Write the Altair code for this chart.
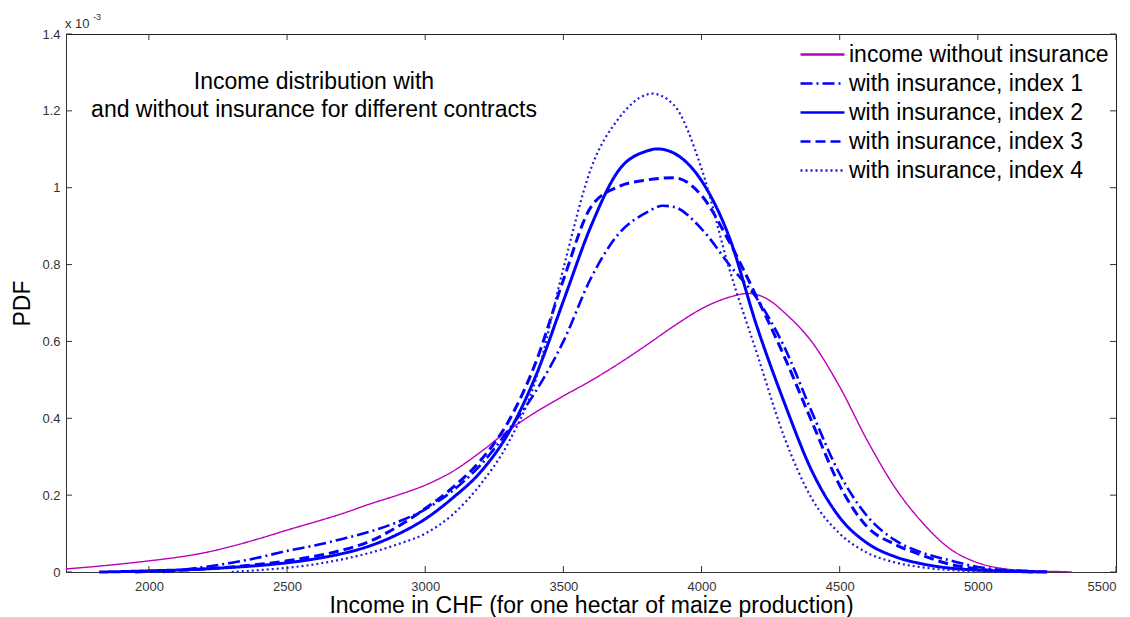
import altair as alt
import pandas as pd

# ---------------- data (PDF in units of 1e-3) -------------
series_names = [
    "income without insurance",
    "with insurance, index 1",
    "with insurance, index 2",
    "with insurance, index 3",
    "with insurance, index 4",
]

income_0 = [1700, 1800, 1900, 2000, 2100, 2200, 2300, 2400, 2500, 2600, 2700, 2800, 2900,
            3000, 3100, 3200, 3300, 3400, 3500, 3600, 3700, 3800, 3900, 4000, 4100, 4170,
            4250, 4300, 4400, 4500, 4600, 4700, 4800, 4900, 5000, 5100, 5200, 5300, 5340]
pdf_0 = [0.008, 0.014, 0.021, 0.029, 0.038, 0.050, 0.067, 0.087, 0.109, 0.130, 0.152, 0.177, 0.200,
         0.226, 0.262, 0.312, 0.368, 0.416, 0.458, 0.498, 0.542, 0.590, 0.640, 0.685, 0.715, 0.725,
         0.705, 0.675, 0.598, 0.482, 0.342, 0.220, 0.128, 0.060, 0.024, 0.008, 0.003, 0.001, 0.0]

income_1 = [2050, 2100, 2200, 2300, 2400, 2500, 2600, 2700, 2800, 2900, 3000, 3100, 3200, 3300,
            3400, 3500, 3600, 3700, 3800, 3860, 3900, 4000, 4100, 4200, 4300, 4400, 4500, 4600,
            4700, 4800, 4900, 5000, 5100, 5200, 5250]
pdf_1 = [0.0, 0.004, 0.013, 0.024, 0.038, 0.055, 0.069, 0.086, 0.105, 0.130, 0.163, 0.212, 0.278, 0.368,
         0.470, 0.600, 0.765, 0.880, 0.935, 0.953, 0.950, 0.893, 0.800, 0.712, 0.585, 0.415, 0.255, 0.145,
         0.083, 0.050, 0.030, 0.013, 0.005, 0.002, 0.0]

income_2 = [1820, 1900, 2000, 2100, 2200, 2300, 2400, 2500, 2600, 2700, 2800, 2900, 3000, 3100,
            3200, 3300, 3400, 3500, 3600, 3700, 3800, 3840, 3900, 4000, 4100, 4200, 4300, 4400,
            4500, 4600, 4700, 4800, 4900, 5000, 5100, 5250]
pdf_2 = [0.0, 0.001, 0.003, 0.005, 0.008, 0.012, 0.017, 0.024, 0.034, 0.048, 0.068, 0.098, 0.138, 0.193,
         0.260, 0.360, 0.510, 0.705, 0.900, 1.045, 1.095, 1.101, 1.090, 1.018, 0.872, 0.640, 0.440, 0.262,
         0.142, 0.075, 0.040, 0.021, 0.010, 0.005, 0.002, 0.0]

income_3 = [1950, 2000, 2100, 2200, 2300, 2400, 2500, 2600, 2700, 2800, 2900, 3000, 3100, 3200,
            3300, 3400, 3500, 3600, 3700, 3800, 3900, 4000, 4100, 4200, 4300, 4400, 4500, 4600,
            4700, 4800, 4900, 5000, 5100, 5200]
pdf_3 = [0.0, 0.002, 0.004, 0.008, 0.013, 0.020, 0.029, 0.041, 0.057, 0.080, 0.118, 0.165, 0.220, 0.290,
         0.390, 0.545, 0.760, 0.950, 1.003, 1.020, 1.026, 0.980, 0.860, 0.715, 0.560, 0.390, 0.225, 0.117,
         0.072, 0.043, 0.020, 0.008, 0.003, 0.0]

income_4 = [2300, 2400, 2500, 2600, 2700, 2800, 2900, 3000, 3100, 3200, 3300, 3400, 3500, 3600,
            3700, 3800, 3820, 3900, 4000, 4100, 4200, 4300, 4400, 4500, 4600, 4700, 4800, 4900,
            5000, 5100]
pdf_4 = [0.0, 0.005, 0.011, 0.020, 0.033, 0.050, 0.072, 0.100, 0.150, 0.228, 0.335, 0.500, 0.790, 1.050,
         1.180, 1.242, 1.245, 1.215, 1.050, 0.790, 0.570, 0.350, 0.190, 0.100, 0.050, 0.025, 0.012, 0.005,
         0.002, 0.0]

x_ticks = [2000, 2500, 3000, 3500, 4000, 4500, 5000, 5500]
y_ticks = [0, 0.2, 0.4, 0.6, 0.8, 1.0, 1.2, 1.4]
x_title = "Income in CHF (for one hectar of maize production)"
y_title = "PDF"
annotation = ["Income distribution with\nand without insurance for different contracts"]
exp_base = "x 10"
exp_sup = "-3"

# ---------------- build tables ----------------
incomes = [income_0, income_1, income_2, income_3, income_4]
pdfs = [pdf_0, pdf_1, pdf_2, pdf_3, pdf_4]
rows = []
for name, xs, ys in zip(series_names, incomes, pdfs):
    for xv, yv in zip(xs, ys):
        rows.append({"series": name, "income": xv, "pdf": yv})
df = pd.DataFrame(rows)
xt = pd.DataFrame({"income": x_ticks})
yt = pd.DataFrame({"pdf": y_ticks})

# ---------------- styles ----------------
W, H = 1050, 538
FONT = "Liberation Sans"
TICK = "#333333"
colors = ["#BB00BB", "#0000FF", "#0000FF", "#0000FF", "#1A1AE6"]
dashes = [[1, 0], [12, 4, 2, 4], [1, 0], [10, 5], [2, 3]]
widths = [1.4, 2.6, 3.0, 3.0, 2.2]

xscale = alt.Scale(domain=[1700, 5500], nice=False, zero=False)
yscale = alt.Scale(domain=[0, 1.4], nice=False, zero=False)

legend = alt.Legend(
    title=None, orient="none", legendX=755, legendY=8, padding=0,
    symbolType="M-3,0H1", symbolSize=484, symbolStrokeWidth=2.5,
    labelFont=FONT, labelFontSize=23, labelColor="black", labelOffset=3,
    rowPadding=4, labelLimit=400,
)

x_axis = alt.Axis(
    values=x_ticks, format="d", title=x_title, ticks=False, grid=False, labelFont=FONT,
    labelFontSize=13, labelColor="#333333", labelPadding=8, domainColor=TICK,
    titleFont=FONT, titleFontSize=23, titleFontWeight="normal", titleColor="black",
    titleY=40, titleBaseline="alphabetic",
)
y_axis = alt.Axis(
    values=y_ticks, format=".1~f", title=y_title, ticks=False, grid=False, labelFont=FONT,
    labelFontSize=13, labelColor="#333333", labelPadding=6, domainColor=TICK,
    titleFont=FONT, titleFontSize=23, titleFontWeight="normal", titleColor="black",
    titleX=-44, titleY=H / 2, titleAlign="center", titleBaseline="middle",
)

X = alt.X("income:Q", scale=xscale, axis=x_axis)
Y = alt.Y("pdf:Q", scale=yscale, axis=y_axis)

base = alt.Chart(df)
line_layers = []
for name, w in zip(series_names, widths):
    line_layers.append(
        base.transform_filter(alt.datum.series == name)
        .mark_line(strokeWidth=w, interpolate="monotone")
        .encode(
            x=X,
            y=Y,
            color=alt.Color("series:N", scale=alt.Scale(domain=series_names, range=colors), legend=legend),
            strokeDash=alt.StrokeDash("series:N", scale=alt.Scale(domain=series_names, range=dashes), legend=legend),
            order=alt.Order("income:Q"),
        )
    )

# inward-pointing MATLAB style ticks on all four sides (placed through the shared scales)
tick_bottom = alt.Chart(xt).mark_rule(color=TICK, strokeWidth=1).encode(
    x=X, y=alt.value(H), y2=alt.value(H - 6))
tick_top = alt.Chart(xt).mark_rule(color=TICK, strokeWidth=1).encode(
    x=X, y=alt.value(0), y2=alt.value(6))
tick_left = alt.Chart(yt).mark_rule(color=TICK, strokeWidth=1).encode(
    y=Y, x=alt.value(0), x2=alt.value(6))
tick_right = alt.Chart(yt).mark_rule(color=TICK, strokeWidth=1).encode(
    y=Y, x=alt.value(W), x2=alt.value(W - 6))

title_txt = alt.Chart(pd.DataFrame({"t": annotation})).mark_text(
    align="center", baseline="middle", font=FONT, fontSize=23, lineBreak="\n", lineHeight=28, color="black"
).encode(text="t:N", x=alt.value(248), y=alt.value(48))

exp1 = alt.Chart(pd.DataFrame({"t": [exp_base]})).mark_text(
    align="left", baseline="middle", font=FONT, fontSize=13, color="#333333"
).encode(text="t:N", x=alt.value(-1), y=alt.value(-10))
exp2 = alt.Chart(pd.DataFrame({"t": [exp_sup]})).mark_text(
    align="left", baseline="middle", font=FONT, fontSize=9, color="#333333"
).encode(text="t:N", x=alt.value(27), y=alt.value(-17))

chart = (
    alt.layer(*line_layers, tick_bottom, tick_top, tick_left, tick_right, title_txt, exp1, exp2)
    .properties(
        width=W, height=H,
        padding={"left": 66, "top": 34, "right": 14, "bottom": 45},
        autosize=alt.AutoSizeParams(type="none"),
        background="white",
    )
    .configure_view(stroke="#222222", strokeWidth=1)
)

chart.save("out.html", embed_options={"renderer": "svg", "actions": False})
